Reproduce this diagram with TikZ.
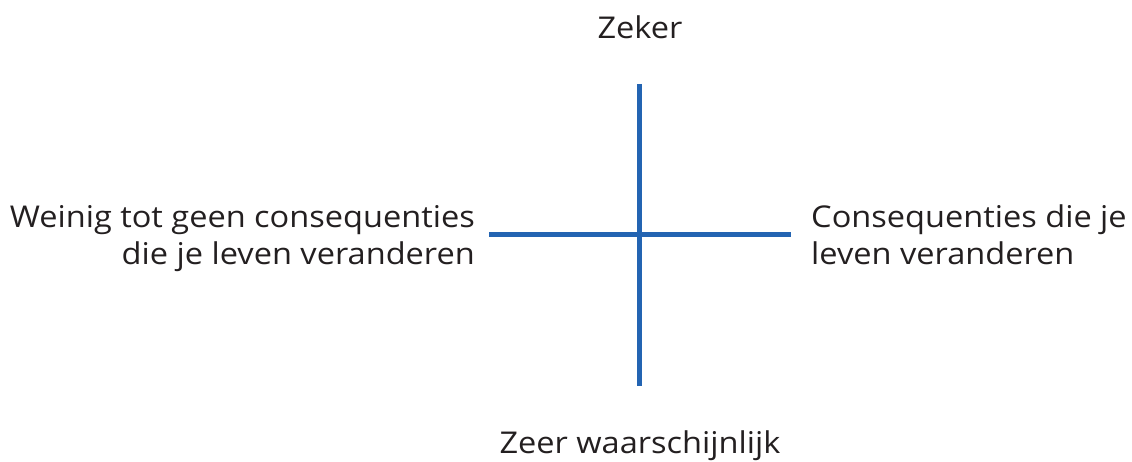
\documentclass[tikz,border=0pt]{standalone}
\usepackage{fontspec}
\setmainfont[FakeStretch=1.085]{Open Sans}
\definecolor{axisblue}{HTML}{2364B2}
\definecolor{txt}{HTML}{231F20}
\begin{document}
\begin{tikzpicture}[x=1pt,y=-1pt,
  axis/.style={draw=axisblue,line width=5pt},
  lbl/.style={inner sep=0pt,text=txt,font=\fontsize{30}{36}\selectfont}]
\useasboundingbox (0,0) rectangle (1132,462);
\coordinate (top) at (639.5,84);
\coordinate (bot) at (639.5,386);
\coordinate (lft) at (489,235);
\coordinate (rgt) at (791,235);
\draw[axis] (top) -- (bot);
\draw[axis] (lft) -- (rgt);
\node[lbl,anchor=base] (zeker) at (640,39) {Zeker};
\node[lbl,anchor=base] (waar) at (640,453) {Zeer waarschijnlijk};
\node[lbl,anchor=base east] (l1) at (475,228) {Weinig tot geen consequenties};
\node[lbl,anchor=base east] (l2) at (475,265) {die je leven veranderen};
\node[lbl,anchor=base west] (r1) at (811,228) {Consequenties die je};
\node[lbl,anchor=base west] (r2) at (811,265) {leven veranderen};
\end{tikzpicture}
\end{document}
